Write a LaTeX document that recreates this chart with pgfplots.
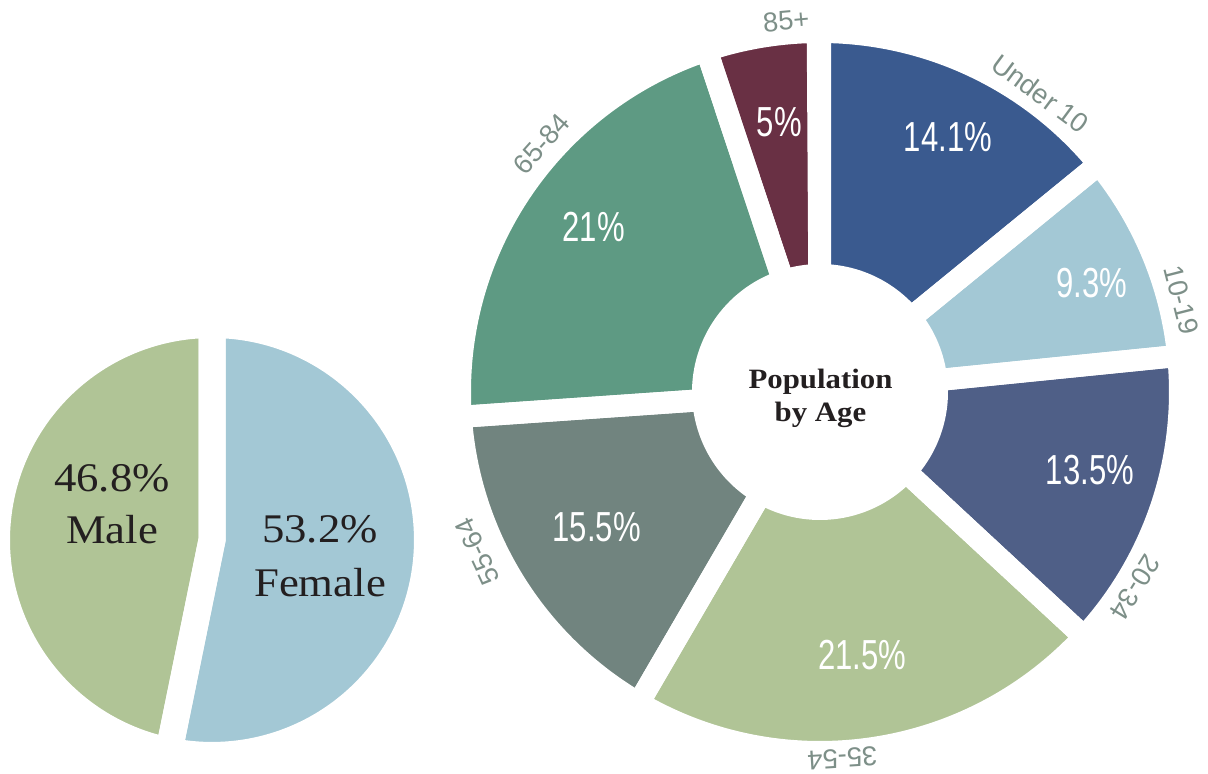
\documentclass[border=0pt]{standalone}
\usepackage{pgfplots}
\pgfplotsset{compat=1.18}
\usepackage{pgfplotstable}
\usepackage{fontspec}
\setmainfont{Liberation Serif}
\newfontfamily\condfont[FakeStretch=0.74]{Liberation Sans}
\newfontfamily\labfont{Liberation Sans}
\newfontfamily\widserif[FakeStretch=1.1]{Liberation Serif}
\definecolor{cA}{HTML}{3A5A8F}
\definecolor{cB}{HTML}{A3C8D5}
\definecolor{cC}{HTML}{4F5F87}
\definecolor{cD}{HTML}{B0C496}
\definecolor{cE}{HTML}{71847F}
\definecolor{cF}{HTML}{5E9A83}
\definecolor{cG}{HTML}{693044}
\definecolor{labgray}{HTML}{7D8F88}
\definecolor{darktext}{HTML}{231F20}

% age groups: value (%), colour, label angle/radius (px), outer-label angle/radius (px)
\pgfplotstableread[col sep=comma]{
label,value,col,lang,lrad,oang,orad
Under 10,14.1,cA,63.3,285,53.5,371
10-19,9.3,cB,21.8,293,14.3,373
20-34,13.5,cC,-16.1,281,-31.8,371
35-54,21.5,cD,-80.9,266,-86.5,367
55-64,15.5,cE,-148.8,261,205,378
65-84,21,cF,143.9,280,138.3,373
85+,5,cG,98.6,273,95.2,373
}\agedata

\pgfplotstableread[col sep=comma]{
label,value,col
Female,53.2,cB
Male,46.8,cD
}\sexdata

\def\Ro{270pt}
\def\Ri{87.75pt}
\def\Rp{161.6pt}
\tikzset{
  pct/.style={font=\condfont\fontsize{31.5}{36}\selectfont,text=white},
  glab/.style={font=\labfont\fontsize{20.5}{23}\selectfont,text=labgray},
  big/.style={font=\widserif\fontsize{30.5}{36}\selectfont,text=darktext,anchor=base},
  ctr/.style={font=\widserif\bfseries\fontsize{21}{24}\selectfont,text=darktext,anchor=base}
}
\begin{document}
\begin{tikzpicture}
\begin{axis}[x=0.75pt,y=0.75pt,xmin=0,xmax=1208,ymin=0,ymax=774,hide axis,clip=false]
% ---------- donut: fills
\pgfmathsetmacro\cum{90}
\pgfplotsforeachungrouped \i in {0,...,6}{%
  \pgfplotstablegetelem{\i}{value}\of\agedata\let\v\pgfplotsretval
  \pgfplotstablegetelem{\i}{col}\of\agedata\let\c\pgfplotsretval
  \pgfmathsetmacro\aone{\cum}%
  \pgfmathsetmacro\atwo{\cum-3.6*\v}%
  \let\cum\atwo
  \edef\temp{\noexpand\fill[\c] ([shift={(\aone:\Ri)}]axis cs:820,382) -- ([shift={(\aone:\Ro)}]axis cs:820,382) arc[start angle=\aone,end angle=\atwo,radius=\Ro] -- ([shift={(\atwo:\Ri)}]axis cs:820,382) arc[start angle=\atwo,end angle=\aone,radius=\Ri] -- cycle;}%
  \temp
}
% ---------- donut: white gaps
\pgfmathsetmacro\cum{90}
\pgfplotsforeachungrouped \i in {0,...,6}{%
  \pgfplotstablegetelem{\i}{value}\of\agedata\let\v\pgfplotsretval
  \pgfmathsetmacro\aone{\cum}%
  \pgfmathsetmacro\atwo{\cum-3.6*\v}%
  \let\cum\atwo
  \edef\temp{\noexpand\draw[white,line width=16.5pt] ([shift={(\aone:\Ri)}]axis cs:820,382) -- ([shift={(\aone:\Ro)}]axis cs:820,382) arc[start angle=\aone,end angle=\atwo,radius=\Ro] -- ([shift={(\atwo:\Ri)}]axis cs:820,382) arc[start angle=\atwo,end angle=\aone,radius=\Ri] -- cycle;}%
  \temp
}
% ---------- donut: labels
\pgfplotsforeachungrouped \i in {0,...,6}{%
  \pgfplotstablegetelem{\i}{value}\of\agedata\let\v\pgfplotsretval
  \pgfplotstablegetelem{\i}{label}\of\agedata\let\lab\pgfplotsretval
  \pgfplotstablegetelem{\i}{lang}\of\agedata\let\la\pgfplotsretval
  \pgfplotstablegetelem{\i}{lrad}\of\agedata\pgfmathsetmacro\lr{\pgfplotsretval*0.75}%
  \pgfplotstablegetelem{\i}{oang}\of\agedata\let\oa\pgfplotsretval
  \pgfplotstablegetelem{\i}{orad}\of\agedata\pgfmathsetmacro\orr{\pgfplotsretval*0.75}%
  \pgfmathsetmacro\orot{\oa-90}%
  \edef\temp{\noexpand\node[pct] at ([shift={(\la:\lr pt)}]axis cs:820,382) {\v\noexpand\%};
    \noexpand\node[glab,rotate=\orot] at ([shift={(\oa:\orr pt)}]axis cs:820,382) {\lab};}%
  \temp
}
% ---------- gender pie
\pgfmathsetmacro\cum{90}
\pgfplotsforeachungrouped \i in {0,1}{%
  \pgfplotstablegetelem{\i}{value}\of\sexdata\let\v\pgfplotsretval
  \pgfplotstablegetelem{\i}{col}\of\sexdata\let\c\pgfplotsretval
  \pgfmathsetmacro\aone{\cum}%
  \pgfmathsetmacro\atwo{\cum-3.6*\v}%
  \let\cum\atwo
  \edef\temp{\noexpand\fill[\c] (axis cs:212,234) -- ([shift={(\aone:\Rp)}]axis cs:212,234) arc[start angle=\aone,end angle=\atwo,radius=\Rp] -- cycle;}%
  \temp
}
\pgfmathsetmacro\cum{90}
\pgfplotsforeachungrouped \i in {0,1}{%
  \pgfplotstablegetelem{\i}{value}\of\sexdata\let\v\pgfplotsretval
  \pgfmathsetmacro\aone{\cum}%
  \pgfmathsetmacro\atwo{\cum-3.6*\v}%
  \let\cum\atwo
  \edef\temp{\noexpand\draw[white,line width=20.25pt] (axis cs:212,234) -- ([shift={(\aone:\Rp)}]axis cs:212,234) arc[start angle=\aone,end angle=\atwo,radius=\Rp] -- cycle;}%
  \temp
}
\node[big] at (axis cs:112,282) {46.8\%};
\node[big] at (axis cs:112,230) {Male};
\node[big] at (axis cs:320,231) {53.2\%};
\node[big] at (axis cs:320,177) {Female};
% ---------- centre title
\node[ctr] at (axis cs:820.5,385) {Population};
\node[ctr] at (axis cs:820.5,352) {by Age};
\end{axis}
\pgfresetboundingbox
\path (current axis.south west) rectangle (current axis.north east);
\end{tikzpicture}
\end{document}
